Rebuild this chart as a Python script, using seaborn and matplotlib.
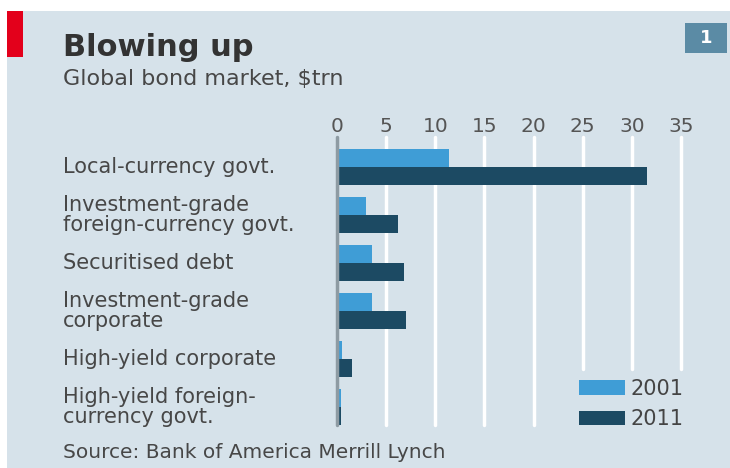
import matplotlib
matplotlib.use("Agg")
import matplotlib.pyplot as plt
import matplotlib.transforms as mtransforms
from matplotlib.patches import Rectangle
import seaborn as sns
import pandas as pd

categories = [
    "Local-currency govt.",
    "Investment-grade\nforeign-currency govt.",
    "Securitised debt",
    "Investment-grade\ncorporate",
    "High-yield corporate",
    "High-yield foreign-\ncurrency govt.",
]
years = ["2001", "2011"]
values_2001 = [11.4, 3.0, 3.6, 3.6, 0.5, 0.4]
values_2011 = [31.5, 6.2, 6.8, 7.0, 1.5, 0.4]
ticks = [0, 5, 10, 15, 20, 25, 30, 35]

df = pd.DataFrame({
    "category": categories * 2,
    "year": [years[0]] * len(categories) + [years[1]] * len(categories),
    "value": values_2001 + values_2011,
})

BG = "#d6e2ea"
C2001 = "#3f9dd6"
C2011 = "#1c4a63"
TXT = "#474747"

sns.set_theme(style="white")
plt.rcParams["font.family"] = ["DejaVu Sans"]

W, H = 730, 468
fig = plt.figure(figsize=(W / 100, H / 100), dpi=100)
fig.patch.set_facecolor("white")
fig.patches.append(Rectangle((7 / W, 0), 1 - 7 / W, 1 - 11 / H, transform=fig.transFigure,
                             facecolor=BG, edgecolor="none", zorder=-10))
fig.patches.append(Rectangle((7 / W, 1 - 57 / H), 16 / W, 46 / H, transform=fig.transFigure,
                             facecolor="#e3001b", edgecolor="none", zorder=1))
fig.patches.append(Rectangle((685 / W, 1 - 53 / H), 42 / W, 30 / H, transform=fig.transFigure,
                             facecolor="#5b8ba5", edgecolor="none", zorder=1))
fig.text(706 / W, 1 - 38 / H, "1", color="white", fontsize=13, fontweight="bold",
         ha="center", va="center")

fig.text(63 / W, 1 - 47 / H, "Blowing up", fontsize=22, fontweight="bold", color="#333333",
         ha="left", va="center")
fig.text(63 / W, 1 - 79 / H, "Global bond market, $trn", fontsize=16, color=TXT,
         ha="left", va="center")
fig.text(63 / W, 1 - 453 / H, "Source: Bank of America Merrill Lynch", fontsize=14.5,
         color=TXT, ha="left", va="center")

ax = fig.add_axes([337 / W, 1 - 425 / H, 344 / W, 288 / H])
ax.set_facecolor("none")
ax.set_zorder(2)

sns.barplot(data=df, y="category", x="value", hue="year", order=categories,
            hue_order=years, palette=[C2001, C2011], width=0.77, orient="h",
            saturation=1, ax=ax, zorder=3, legend=True, linewidth=0, edgecolor="none")

ax.set_xlim(0, 35)
ax.set_ylim(5.375, -0.625)
for t in ticks[1:]:
    bottom = 0.0 if t <= 20 else (425 - 369) / 288
    ax.axvline(t, ymin=bottom, ymax=1.0, color="white", lw=2.5, zorder=1, clip_on=False)
ax.axvline(0, color="#8e9ba3", lw=2.5, zorder=4, clip_on=False)

ax.xaxis.tick_top()
ax.set_xticks(ticks)
ax.set_xticklabels([str(t) for t in ticks], fontsize=14.5, color="#555555")
ax.tick_params(axis="x", length=0, pad=1)
ax.set_yticks(range(len(categories)))
ax.set_yticklabels([])
ax.tick_params(axis="y", length=0)
ax.set_xlabel("")
ax.set_ylabel("")
for s in ax.spines.values():
    s.set_visible(False)

lab_tr = mtransforms.blended_transform_factory(fig.transFigure, ax.transData)
for i, lab in enumerate(categories):
    ax.text(63 / W, i, lab, transform=lab_tr, fontsize=15, color=TXT,
            ha="left", va="center", linespacing=1.0, clip_on=False)

leg = ax.legend(loc="lower left", bbox_to_anchor=(560 / W, 1 - 448 / H),
                bbox_transform=fig.transFigure, frameon=False, fontsize=15,
                handlelength=2.2, handleheight=0.7, labelspacing=0.5, handletextpad=0.3)
for t in leg.get_texts():
    t.set_color("#444444")

fig.savefig("out.png", dpi=100, facecolor=fig.get_facecolor())
